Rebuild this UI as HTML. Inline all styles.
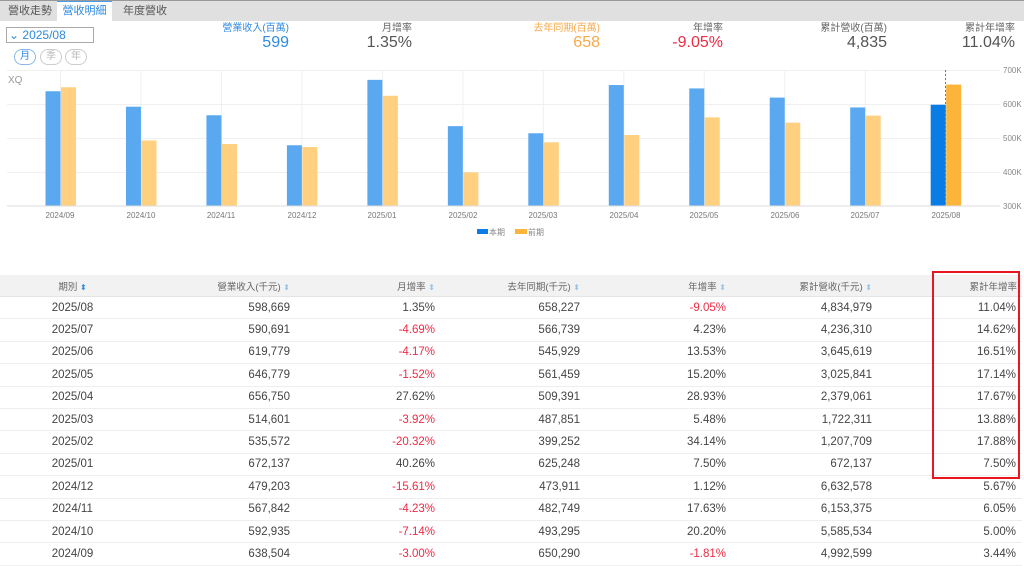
<!DOCTYPE html>
<html><head><meta charset="utf-8"><style>
body{margin:0;width:1024px;height:565px;overflow:hidden;background:#fff;font-family:"Liberation Sans","Noto Sans CJK TC",sans-serif;position:relative}
.abs{position:absolute}
.tabs{position:absolute;left:0;top:0;width:1024px;height:20px;background:#e0e0e0;border-top:1px solid #999}
.tab{position:absolute;top:1px;height:19px;font-size:11px;color:#555;line-height:19px}
.stat .l{position:absolute;font-size:10px;line-height:12px;color:#666;text-align:right}
.stat .v{position:absolute;font-size:16px;line-height:18px;color:#555;text-align:right}
table{position:absolute;left:0;top:275px;width:1022px;border-collapse:collapse;table-layout:fixed;font-size:11.5px;color:#444}
td{height:21.4px;border-bottom:1px solid #eee;text-align:right;padding:0;}
th{height:21px;background:#f2f2f2;font-weight:normal;font-size:9.5px;color:#666;text-align:right;border-bottom:1px solid #e4e4e4;padding:0}
.r{color:#ef2a44}
.s{color:#9cc3e6;font-size:8px}
</style></head><body>
<div class="tabs">
<div class="tab" style="left:8px">營收走勢</div>
<div class="tab" style="left:57px;width:55px;background:#fff;color:#2f8ae0;text-align:center;border-top:1px solid #4a9be8;top:0">營收明細</div>
<div class="tab" style="left:123px">年度營收</div>
</div>
<div class="abs" style="left:6px;top:27px;width:84px;height:14px;border:1px solid #aaa;font-size:12px;color:#2f8ae0;line-height:14px;padding-left:2px">⌄ 2025/08</div>
<div class="abs" style="left:14px;top:49px;width:20px;height:14px;border:1px solid #8ab8e8;border-radius:8px;font-size:10px;color:#2f8ae0;text-align:center;line-height:14px">月</div>
<div class="abs" style="left:40px;top:49px;width:20px;height:14px;border:1px solid #ccc;border-radius:8px;font-size:10px;color:#bbb;text-align:center;line-height:14px">季</div>
<div class="abs" style="left:65px;top:49px;width:20px;height:14px;border:1px solid #ccc;border-radius:8px;font-size:10px;color:#bbb;text-align:center;line-height:14px">年</div>
<div class="stat">
<div class="l" style="right:735px;top:23px;color:#2f8ae0">營業收入(百萬)</div><div class="v" style="right:735px;top:34px;color:#2f8ae0">599</div>
<div class="l" style="right:612px;top:23px">月增率</div><div class="v" style="right:612px;top:34px">1.35%</div>
<div class="l" style="right:424px;top:23px;color:#f7a94a">去年同期(百萬)</div><div class="v" style="right:424px;top:34px;color:#f7a94a">658</div>
<div class="l" style="right:301px;top:23px">年增率</div><div class="v" style="right:301px;top:34px;color:#ef2a44">-9.05%</div>
<div class="l" style="right:137px;top:23px">累計營收(百萬)</div><div class="v" style="right:137px;top:34px">4,835</div>
<div class="l" style="right:9px;top:23px">累計年增率</div><div class="v" style="right:9px;top:34px">11.04%</div>
</div>
<svg class="abs" style="left:0;top:0" width="1024" height="245" font-family="Liberation Sans" font-size="8" fill="#777">
<text x="8" y="83" font-size="10" fill="#999">XQ</text>
<g id="grid" stroke="#f0f0f0" stroke-width="1"></g>
<g id="bars"></g>
<line x1="7" y1="206" x2="1000" y2="206" stroke="#ddd"/>
<line x1="945.5" y1="70" x2="945.5" y2="206" stroke="#777" stroke-dasharray="2,2"/>
<g font-size="8" fill="#888">
<text x="1003" y="73">700K</text><text x="1003" y="107">600K</text><text x="1003" y="141">500K</text><text x="1003" y="175">400K</text><text x="1003" y="209">300K</text>
</g>
<rect x="477" y="229" width="11" height="5" fill="#0a7ce6"/><text x="489" y="235" fill="#888">本期</text>
<rect x="515" y="229" width="12" height="5" fill="#fdb43a"/><text x="528" y="235" fill="#888">前期</text>
</svg>
<div class="abs" style="left:932px;top:271px;width:84px;height:204px;border:2px solid #e8161f;z-index:2"></div>
<table>
<colgroup><col style="width:145px"><col style="width:150px"><col style="width:145px"><col style="width:145px"><col style="width:145px"><col style="width:146px"><col style="width:146px"></colgroup>
<tr><th style="text-align:center">期別 <span class="s" style="color:#2f8ae0">⬍</span></th><th style="padding-right:5px">營業收入(千元) <span class="s">⬍</span></th><th style="padding-right:5px">月增率 <span class="s">⬍</span></th><th style="padding-right:5px">去年同期(千元) <span class="s">⬍</span></th><th style="padding-right:4px">年增率 <span class="s">⬍</span></th><th style="padding-right:4px">累計營收(千元) <span class="s">⬍</span></th><th style="padding-right:5px">累計年增率</th></tr>
<tbody id="tb"></tbody>
</table>
<svg class="abs" style="left:0;top:0" width="1024" height="245" font-family="Liberation Sans" font-size="8" fill="#777" text-anchor="middle">
<text x="60" y="218">2024/09</text><text x="141" y="218">2024/10</text><text x="221" y="218">2024/11</text><text x="302" y="218">2024/12</text><text x="382" y="218">2025/01</text><text x="463" y="218">2025/02</text><text x="543" y="218">2025/03</text><text x="624" y="218">2025/04</text><text x="704" y="218">2025/05</text><text x="785" y="218">2025/06</text><text x="865" y="218">2025/07</text><text x="946" y="218">2025/08</text>
</svg>
<script>
var ns="http://www.w3.org/2000/svg";
var d=[["2024/09",638.5,650.3],["2024/10",592.9,493.3],["2024/11",567.7,482.7],["2024/12",479.2,473.9],["2025/01",672.1,625.2],["2025/02",535.6,399.3],["2025/03",514.6,487.9],["2025/04",656.8,509.4],["2025/05",646.8,561.5],["2025/06",619.8,545.9],["2025/07",590.7,566.7],["2025/08",598.7,658.2]];
var g=document.getElementById("grid"),b=document.getElementById("bars");
function el(p,t,a){var e=document.createElementNS(ns,t);for(var k in a)e.setAttribute(k,a[k]);p.appendChild(e);return e;}
[70,104,138,172].forEach(function(y){el(g,"line",{x1:7,y1:y+.5,x2:1000,y2:y+.5});});
for(var i=0;i<12;i++){var c=60.5+i*80.47;el(g,"line",{x1:c,y1:70,x2:c,y2:206});
var last=i==11;var h1=(d[i][1]-300)*0.339,h2=(d[i][2]-300)*0.339;
el(b,"rect",{x:c-15,y:206-h1,width:15,height:h1,fill:last?"#0a7ce6":"#5aa9f0"});
el(b,"rect",{x:c+0.5,y:206-h2,width:15,height:h2,fill:last?"#fdb43a":"#ffd07f"});
}
var rows=[["2025/08","598,669","1.35%","658,227","-9.05%","4,834,979","11.04%"],
["2025/07","590,691","-4.69%","566,739","4.23%","4,236,310","14.62%"],
["2025/06","619,779","-4.17%","545,929","13.53%","3,645,619","16.51%"],
["2025/05","646,779","-1.52%","561,459","15.20%","3,025,841","17.14%"],
["2025/04","656,750","27.62%","509,391","28.93%","2,379,061","17.67%"],
["2025/03","514,601","-3.92%","487,851","5.48%","1,722,311","13.88%"],
["2025/02","535,572","-20.32%","399,252","34.14%","1,207,709","17.88%"],
["2025/01","672,137","40.26%","625,248","7.50%","672,137","7.50%"],
["2024/12","479,203","-15.61%","473,911","1.12%","6,632,578","5.67%"],
["2024/11","567,842","-4.23%","482,749","17.63%","6,153,375","6.05%"],
["2024/10","592,935","-7.14%","493,295","20.20%","5,585,534","5.00%"],
["2024/09","638,504","-3.00%","650,290","-1.81%","4,992,599","3.44%"]];
var pads=[0,5,5,5,4,4,6],h="";
rows.forEach(function(r){h+="<tr>";r.forEach(function(v,j){var st=j==0?"text-align:center":"padding-right:"+pads[j]+"px";var cl=(v[0]=="-")?' class="r"':"";h+="<td style='"+st+"'"+cl+">"+v+"</td>";});h+="</tr>";});
document.getElementById("tb").innerHTML=h;
</script>
</body></html>
